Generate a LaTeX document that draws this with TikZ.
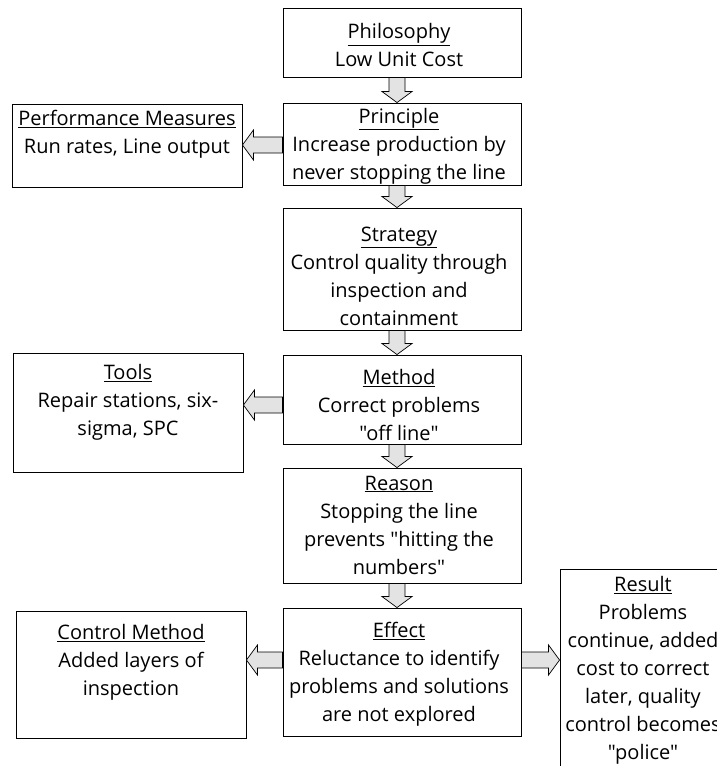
\documentclass[tikz,border=0pt]{standalone}
\usepackage{fontspec}
\setmainfont{Open Sans}[Ligatures=TeXOff]
\usetikzlibrary{calc}

\tikzset{
  x=1pt, y=-1pt,
  frame/.style={draw=black, line width=0.9pt, inner sep=0pt},
  boxtext/.style={align=center, inner sep=0pt,
    font=\fontsize{20}{28}\selectfont},
  blockfill/.style={draw=black, line width=0.7pt, fill=gray!22, line join=miter},
}

% hollow block arrow from #1 to #2 (tip at #2)
\newcommand\blockarrow[2]{%
  \coordinate (ba-h) at ($(#2)!11pt!(#1)$);
  \filldraw[blockfill]
    ($(#1)!8pt!90:(#2)$) -- ($(ba-h)!8pt!90:(#2)$) -- ($(ba-h)!15pt!90:(#2)$)
    -- (#2)
    -- ($(ba-h)!15pt!-90:(#2)$) -- ($(ba-h)!8pt!-90:(#2)$) -- ($(#1)!8pt!-90:(#2)$)
    -- cycle;
}

\begin{document}
\begin{tikzpicture}
\path[use as bounding box, clip] (0,0) rectangle (717,766);

% frames of the central column
\node[frame, minimum width=238pt, minimum height=69pt]  (phil)   at (402,42.5) {};
\node[frame, minimum width=238pt, minimum height=82pt]  (prin)   at (402,144) {};
\node[frame, minimum width=238pt, minimum height=122pt] (strat)  at (402,269) {};
\node[frame, minimum width=238pt, minimum height=89pt]  (meth)   at (402,399.5) {};
\node[frame, minimum width=238pt, minimum height=115pt] (reason) at (402,525.5) {};
\node[frame, minimum width=238pt, minimum height=128pt] (effect) at (402,672) {};

% side frames
\node[frame, minimum width=230pt, minimum height=83pt]  (perf)   at (127,145.5) {};
\node[frame, minimum width=230pt, minimum height=119pt] (tools)  at (128,412.5) {};
\node[frame, minimum width=230pt, minimum height=127pt] (ctrl)   at (131,674.5) {};
\node[frame, minimum width=167pt, minimum height=221pt] (result) at (643.5,679.5) {};

% texts
\node[boxtext] (tphil)   at (399,45)  {\underline{Philosophy}\\Low Unit Cost};
\node[boxtext] (tprin)   at (399,146) {\underline{Principle}\\Increase production by\\never stopping the line};
\node[boxtext] (tstrat)  at (399,276) {\underline{Strategy}\\Control quality through\\inspection and\\containment};
\node[boxtext] (tmeth)   at (399,405) {\underline{Method}\\Correct problems\\"off line"};
\node[boxtext] (treason) at (399,525) {\underline{Reason}\\Stopping the line\\prevents "hitting the\\numbers"};
\node[boxtext] (teffect) at (399,674) {\underline{Effect}\\Reluctance to identify\\problems and solutions\\are not explored};
\node[boxtext] (tperf)   at (127,134) {\underline{Performance Measures}\\Run rates, Line output};
\node[boxtext] (ttools)  at (128,402) {\underline{Tools}\\Repair stations, six-\\sigma, SPC};
\node[boxtext] (tctrl)   at (131,662) {\underline{Control Method}\\Added layers of\\inspection};
\node[boxtext] (tresult) at (643,670) {\underline{Result}\\Problems\\continue, added\\cost to correct\\later, quality\\control becomes\\"police"};

% connector guides
\coordinate (axis) at (397,0);
\coordinate (rowA) at (0,145);
\coordinate (rowB) at (0,405);
\coordinate (rowC) at (0,660);

% block arrows
\blockarrow{phil.south -| axis}{prin.north -| axis}
\blockarrow{prin.south -| axis}{strat.north -| axis}
\blockarrow{strat.south -| axis}{meth.north -| axis}
\blockarrow{meth.south -| axis}{reason.north -| axis}
\blockarrow{reason.south -| axis}{effect.north -| axis}
\blockarrow{prin.west |- rowA}{perf.east |- rowA}
\blockarrow{meth.west |- rowB}{tools.east |- rowB}
\blockarrow{effect.west |- rowC}{ctrl.east |- rowC}
\blockarrow{effect.east |- rowC}{result.west |- rowC}
\end{tikzpicture}
\end{document}
